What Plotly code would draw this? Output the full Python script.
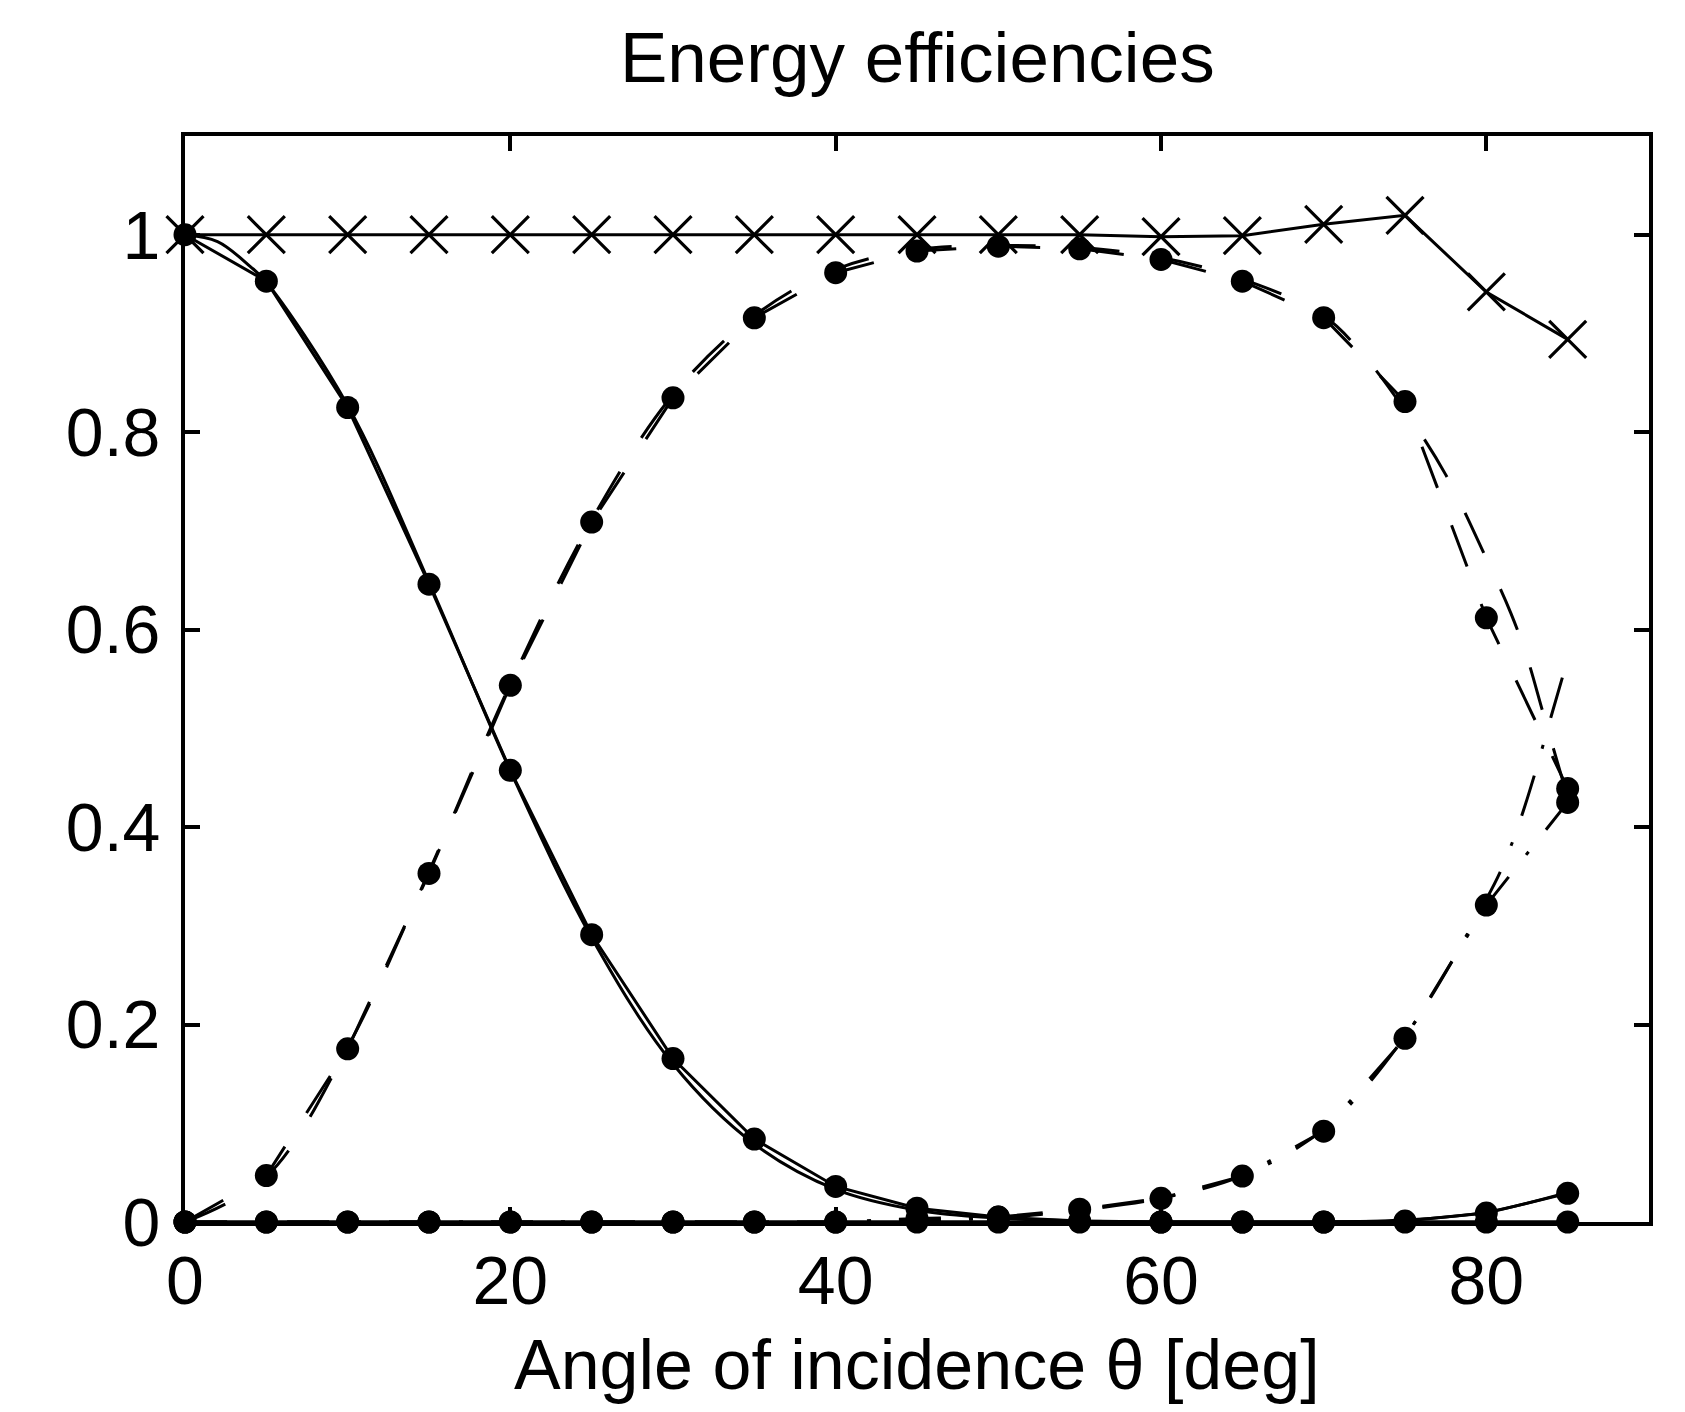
import plotly.graph_objects as go

# ---- data ----
theta = [0, 5, 10, 15, 20, 25, 30, 35, 40, 45, 50, 55, 60, 65, 70, 75, 80, 85]

total = [1.0, 1.0, 1.0, 1.0, 1.0, 1.0, 1.0, 1.0, 1.0, 1.0, 1.0, 1.0, 0.998, 0.999, 1.0105, 1.0196, 0.942, 0.894]
r0 = [1.0, 0.953, 0.825, 0.646, 0.4575, 0.291, 0.1656, 0.084, 0.036, 0.014, 0.005, 0.001, 0, 0, 0, 0, 0, 0]
t0 = [0.0, 0.047, 0.1754, 0.353, 0.5436, 0.709, 0.8348, 0.9159, 0.9615, 0.9834, 0.9884, 0.9858, 0.975, 0.953, 0.916, 0.831, 0.612, 0.439]
r1 = [0, 0, 0, 0, 0, 0, 0, 0, 0, 0.0036, 0.005, 0.013, 0.024, 0.0465, 0.092, 0.186, 0.321, 0.425]
t1 = [0, 0, 0, 0, 0, 0, 0, 0, 0, 0, 0, 0, 0, 0, 0, 0.001, 0.009, 0.029]

# smooth (model) curves
theta_r0m = [0, 2, 4, 5, 10, 15, 20, 25, 30, 35, 40, 45, 50, 55, 60, 70, 85]
r0_model = [1.0, 0.993, 0.968, 0.952, 0.827, 0.648, 0.457, 0.288, 0.16, 0.079, 0.033, 0.012, 0.004, 0.001, 0, 0, 0]

theta_t0m = [0, 5, 10, 15, 20, 25, 30, 35, 40, 45, 50, 55, 60, 65, 70, 72.5, 75, 77.5, 80, 81.5, 82.5, 83.5, 85]
t0_model = [0.0, 0.046, 0.177, 0.355, 0.545, 0.711, 0.838, 0.918, 0.965, 0.985, 0.989, 0.987, 0.977, 0.955, 0.918, 0.877, 0.822, 0.757, 0.672, 0.617, 0.572, 0.515, 0.43]

theta_r1m = [0, 10, 20, 30, 40, 45, 50, 55, 60, 65, 70, 75, 80, 81, 82, 83, 84, 85]
r1_model = [0, 0, 0, 0, 0, 0.002, 0.004, 0.012, 0.024, 0.047, 0.094, 0.188, 0.327, 0.36, 0.403, 0.455, 0.513, 0.57]

theta_t1m = [0, 20, 40, 60, 70, 75, 80, 85]
t1_model = [0, 0, 0, 0, 0, 0.002, 0.01, 0.03]

xticks = [0, 20, 40, 60, 80]
yticks = [0, 0.2, 0.4, 0.6, 0.8, 1.0]
yticktext = ["0", "0.2", "0.4", "0.6", "0.8", "1"]

FONT = "Liberation Sans, Arial, Helvetica, sans-serif"
LW = 3.0
DASH = "44px,40px"
DASHDOT = "42px,28px,4px,28px"

# page geometry (browser body has an 8px margin)
BODY = 8
PLOT_L, PLOT_R, PLOT_T, PLOT_B = 185, 1649, 136, 1222
FIG_W, FIG_H = 1685 - 2 * BODY, 1412 - 2 * BODY
PLOT_H = PLOT_B - PLOT_T

fig = go.Figure()

def model(x, y, dash):
    fig.add_trace(go.Scatter(x=x, y=y, mode="lines", line=dict(color="black", width=LW, dash=dash,
                                                                shape="spline", smoothing=1.0),
                             cliponaxis=False, showlegend=False, hoverinfo="skip"))

model(theta_r0m, r0_model, "solid")
model(theta_t0m, t0_model, DASH)
model(theta_r1m, r1_model, DASHDOT)
model(theta_t1m, t1_model, "solid")

def data(y, dash):
    fig.add_trace(go.Scatter(x=theta, y=y, mode="lines+markers",
                             line=dict(color="black", width=LW, dash=dash),
                             marker=dict(symbol="circle", size=23, color="black"),
                             cliponaxis=False, showlegend=False))

data(r0, "solid")
data(t0, DASH)
data(r1, DASHDOT)
data(t1, "solid")

fig.add_trace(go.Scatter(x=theta, y=total, mode="lines+markers",
                         line=dict(color="black", width=LW),
                         marker=dict(symbol="x-thin", size=37, line=dict(color="black", width=3.2)),
                         cliponaxis=False, showlegend=False))

axis_common = dict(showline=True, linewidth=4, linecolor="black", mirror="ticks",
                   ticks="inside", ticklen=15, tickwidth=3.5, tickcolor="black",
                   showgrid=False, zeroline=False, automargin=False,
                   tickfont=dict(family=FONT, size=68, color="black"))

fig.update_xaxes(range=[0, 90], tickmode="array", tickvals=xticks, ticklabelstandoff=-4, **axis_common)
fig.update_yaxes(range=[0, 1.1], tickmode="array", tickvals=yticks, ticktext=yticktext,
                 ticklabelstandoff=7, **axis_common)

fig.add_annotation(text="Energy efficiencies", xref="paper", yref="paper", x=0.5,
                   y=1.0 + (PLOT_T - 57) / PLOT_H,
                   xanchor="center", yanchor="middle", showarrow=False,
                   font=dict(family=FONT, size=71, color="black"))
fig.add_annotation(text="Angle of incidence θ [deg]", xref="paper", yref="paper", x=0.5,
                   y=-(1365 - PLOT_B) / PLOT_H, xanchor="center", yanchor="middle", showarrow=False,
                   font=dict(family=FONT, size=70, color="black"))

fig.update_layout(width=FIG_W, height=FIG_H, autosize=False,
                  margin=dict(l=PLOT_L - BODY, r=(BODY + FIG_W) - PLOT_R,
                              t=PLOT_T - BODY, b=(BODY + FIG_H) - PLOT_B, pad=0),
                  paper_bgcolor="white", plot_bgcolor="white",
                  font=dict(family=FONT, color="black"))

fig.write_html("out.html")
